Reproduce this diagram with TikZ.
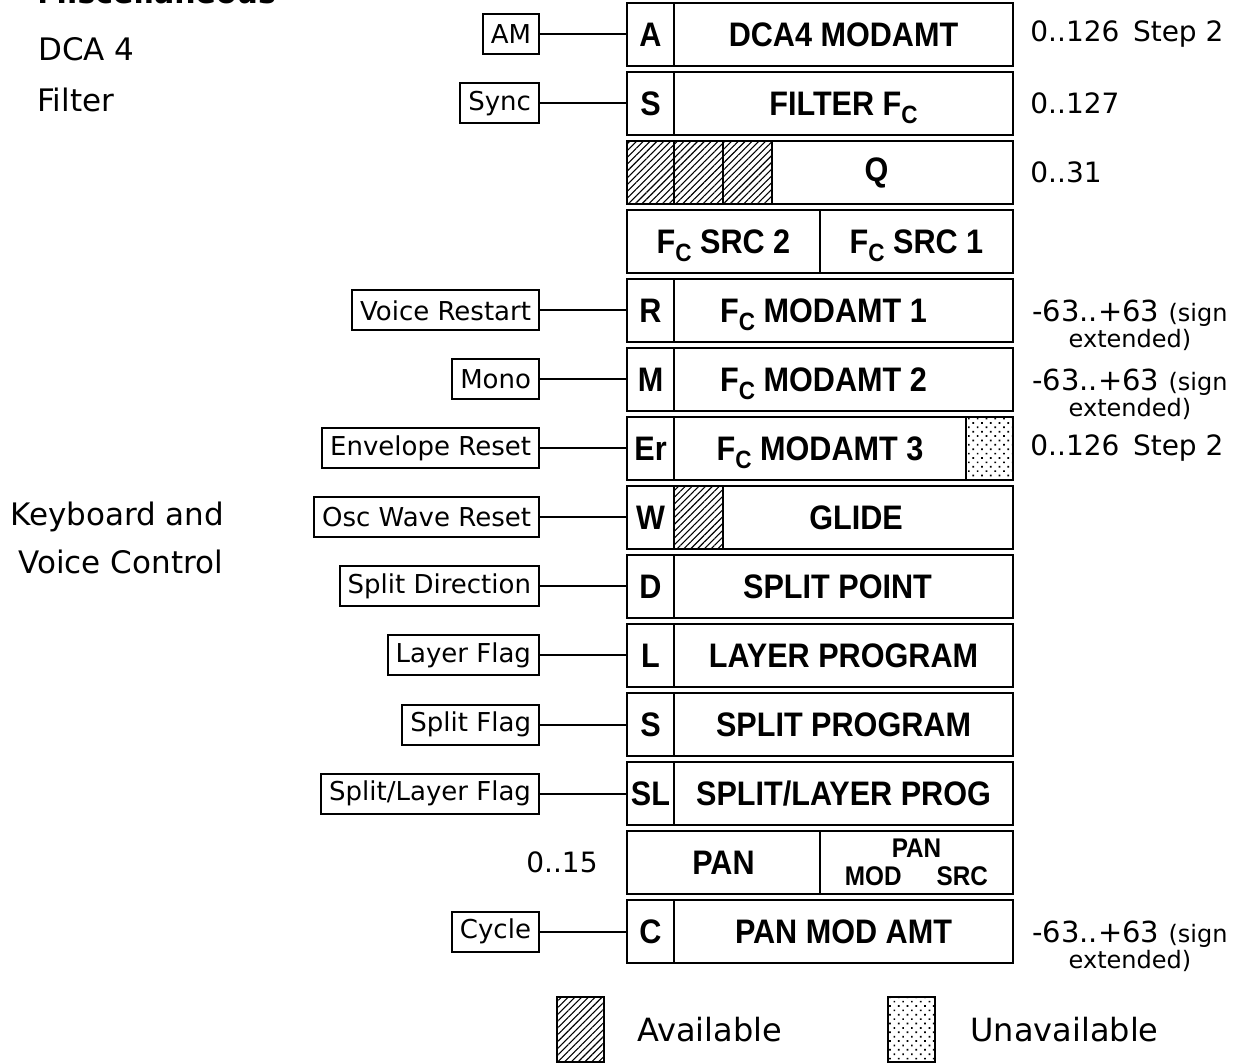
\documentclass[tikz,border=0pt]{standalone}
\usepackage{fontspec}
\setmainfont{DejaVu Sans}
\newfontfamily\regfont[FakeStretch=0.9]{Liberation Sans}
\usetikzlibrary{patterns.meta}
\newcommand{\Fc}{F\raisebox{-0.25em}[0pt][0pt]{\fontsize{12.5}{12.5}\selectfont C}}
\tikzset{
 cell/.style={draw, line width=1.3pt, inner sep=0pt, outer sep=0pt, minimum height=31.5pt,
   font=\regfont\bfseries\fontsize{17}{17}\selectfont},
 lbl/.style={draw, line width=1pt, inner xsep=4pt, inner ysep=0pt, minimum height=20pt,
   anchor=east, font=\fontsize{13}{13}\selectfont},
 conn/.style={line width=1pt},
 avail/.style={pattern={Lines[angle=45,distance=2.4pt,line width=0.55pt]}},
 unavail/.style={pattern={Dots[angle=45,distance=3.1pt,radius=0.6pt]}},
 rng/.style={anchor=west, inner sep=0pt, font=\fontsize{14}{14}\selectfont},
 rngtwo/.style={align=center, inner sep=0pt, font=\fontsize{14.5}{13}\selectfont},
 head/.style={anchor=west, inner sep=0pt, font=\fontsize{15.5}{15.5}\selectfont},
}
\newcommand{\sm}[1]{{\fontsize{12}{12}\selectfont #1}}
\begin{document}
\begin{tikzpicture}[x=0.5pt,y=-0.5pt]
\useasboundingbox (0,0) rectangle (1237,1063);
\begin{scope}
\clip (0,0) rectangle (1237,1063);
\node[anchor=base west, inner sep=0pt, font=\bfseries\fontsize{15}{15}\selectfont] (misc) at (37,4) {Miscellaneous};
\end{scope}

% left headings
\node[head] (hdca) at (38,49) {DCA 4};
\node[head] (hfil) at (37,100) {Filter};
\node[head] (hkey) at (10,517) {Keyboard and};
\node[head] (hvoi) at (18,562) {Voice Control};

% row 1
\node[cell, minimum width=23.5pt] (f1) at (650.5,34.5) {A};
\node[cell, minimum width=169.5pt] (m1) at (843.5,34.5) {DCA4 MODAMT};
\node[lbl] (l1) at (540,34.5) {AM};
\node[rng] (r1) at (1030,34.5) {0..126 \,Step 2};
% row 2
\node[cell, minimum width=23.5pt] (f2) at (650.5,103.5) {S};
\node[cell, minimum width=169.5pt] (m2) at (843.5,103.5) {FILTER \Fc};
\node[lbl] (l2) at (540,103.5) {Sync};
\node[rng] (r2) at (1030,103.5) {0..127};
% row 3
\node[cell, avail, minimum width=23.5pt] (h3a) at (650.5,172.5) {};
\node[cell, avail, minimum width=24.5pt] (h3b) at (698.5,172.5) {};
\node[cell, avail, minimum width=24.5pt] (h3c) at (747.5,172.5) {};
\node[cell, minimum width=120.5pt] (m3) at (892.5,172.5) {Q\kern16pt};
\node[rng] (r3) at (1030,172.5) {0..31};
% row 4
\node[cell, minimum width=96.5pt] (s4b) at (723.5,241.5) {\Fc\ SRC 2};
\node[cell, minimum width=96.5pt] (s4a) at (916.5,241.5) {\Fc\ SRC 1};
% row 5
\node[cell, minimum width=23.5pt] (f5) at (650.5,310.5) {R};
\node[cell, minimum width=169.5pt] (m5) at (843.5,310.5) {\Fc\ MODAMT 1\kern20pt};
\node[lbl] (l5) at (540,310.5) {Voice Restart};
\node[rngtwo] (r5) at (1130,325) {-63..+63 \sm{(sign}\\ \sm{extended)}};
% row 6
\node[cell, minimum width=23.5pt] (f6) at (650.5,379.5) {M};
\node[cell, minimum width=169.5pt] (m6) at (843.5,379.5) {\Fc\ MODAMT 2\kern20pt};
\node[lbl] (l6) at (540,379.5) {Mono};
\node[rngtwo] (r6) at (1130,394) {-63..+63 \sm{(sign}\\ \sm{extended)}};
% row 7
\node[cell, minimum width=23.5pt] (f7) at (650.5,448.5) {Er};
\node[cell, minimum width=146pt] (m7) at (820,448.5) {\Fc\ MODAMT 3};
\node[cell, unavail, minimum width=23.5pt] (d7) at (989.5,448.5) {};
\node[lbl] (l7) at (540,448.5) {Envelope Reset};
\node[rng] (r7) at (1030,448.5) {0..126 \,Step 2};
% row 8
\node[cell, minimum width=23.5pt] (f8) at (650.5,517.5) {W};
\node[cell, avail, minimum width=24.5pt] (h8) at (698.5,517.5) {};
\node[cell, minimum width=145pt] (m8) at (868,517.5) {GLIDE\kern12pt};
\node[lbl] (l8) at (540,517.5) {Osc Wave Reset};
% row 9
\node[cell, minimum width=23.5pt] (f9) at (650.5,586.5) {D};
\node[cell, minimum width=169.5pt] (m9) at (843.5,586.5) {SPLIT POINT\kern6pt};
\node[lbl] (l9) at (540,586.5) {Split Direction};
% row 10
\node[cell, minimum width=23.5pt] (f10) at (650.5,655.5) {L};
\node[cell, minimum width=169.5pt] (m10) at (843.5,655.5) {LAYER PROGRAM};
\node[lbl] (l10) at (540,655.5) {Layer Flag};
% row 11
\node[cell, minimum width=23.5pt] (f11) at (650.5,724.5) {S};
\node[cell, minimum width=169.5pt] (m11) at (843.5,724.5) {SPLIT PROGRAM};
\node[lbl] (l11) at (540,724.5) {Split Flag};
% row 12
\node[cell, minimum width=23.5pt] (f12) at (650.5,793.5) {SL};
\node[cell, minimum width=169.5pt] (m12) at (843.5,793.5) {SPLIT/LAYER PROG};
\node[lbl] (l12) at (540,793.5) {Split/Layer Flag};
% row 13
\node[cell, minimum width=96.5pt] (p13) at (723.5,862.5) {PAN};
\node[cell, minimum width=96.5pt, align=center, font=\regfont\bfseries\fontsize{13.5}{14}\selectfont] (q13) at (916.5,862.5) {PAN\\MOD\hspace{1.3em}SRC};
\node[anchor=east, inner sep=0pt, font=\fontsize{14}{14}\selectfont] (r13) at (598,862.5) {0..15};
% row 14
\node[cell, minimum width=23.5pt] (f14) at (650.5,931.5) {C};
\node[cell, minimum width=169.5pt] (m14) at (843.5,931.5) {PAN MOD AMT};
\node[lbl] (l14) at (540,931.5) {Cycle};
\node[rngtwo] (r14) at (1130,946) {-63..+63 \sm{(sign}\\ \sm{extended)}};

% connectors
\foreach \i in {1,2,5,6,7,8,9,10,11,12,14} {
  \draw[conn] (l\i) -- (f\i);
}

% legend
\node[cell, avail, minimum width=23.5pt, minimum height=32.5pt] (legA) at (580.5,1029.5) {};
\node[anchor=west, inner sep=0pt, font=\fontsize{16}{16}\selectfont] (legAt) at (637,1030) {Available};
\node[cell, unavail, minimum width=23.5pt, minimum height=32.5pt] (legU) at (911.5,1029.5) {};
\node[anchor=west, inner sep=0pt, font=\fontsize{16}{16}\selectfont] (legUt) at (970,1030) {Unavailable};
\end{tikzpicture}
\end{document}
